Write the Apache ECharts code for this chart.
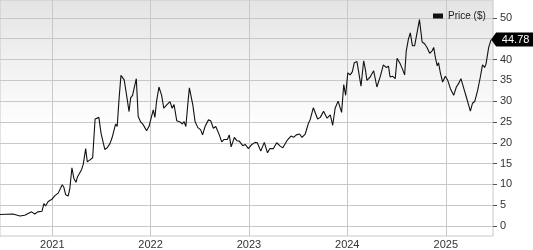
<!DOCTYPE html>
<html>
<head>
<meta charset="utf-8">
<script src="https://cdn.jsdelivr.net/npm/echarts@6/dist/echarts.min.js"></script>
<style>
html,body{margin:0;padding:0;background:#fff;}
#chart{width:533px;height:250px;}
</style>
</head>
<body>
<div id="chart"></div>
<script>
// Weekly-ish closing prices, [date, price]
const prices2020 = [['2020-06-21',2.75],['2020-08-08',2.9],['2020-09-03',2.4],['2020-09-21',2.6],['2020-10-16',3.4],['2020-10-28',2.9],['2020-11-08',3.4],['2020-11-24',3.55],['2020-12-01',5.4],['2020-12-07',4.8],['2020-12-17',5.9],['2020-12-24',5.6]];
const prices2021 = [['2021-01-01',6.5],['2021-01-11',7.3],['2021-01-23',7.9],['2021-01-29',8.1],['2021-02-07',9.9],['2021-02-13',9.3],['2021-02-20',7.5],['2021-03-01',7.2],['2021-03-07',8.9],['2021-03-15',14.0],['2021-03-22',11.5],['2021-03-30',10.5],['2021-04-04',11.7],['2021-04-11',11.9],['2021-04-20',13.6],['2021-04-26',14.8],['2021-05-05',18.6],['2021-05-11',15.4],['2021-05-21',15.9],['2021-05-31',16.4],['2021-06-09',25.7],['2021-06-15',25.3],['2021-06-23',26.1],['2021-07-01',22.3],['2021-07-07',21.9],['2021-07-15',18.4],['2021-07-24',18.8],['2021-08-03',19.8],['2021-08-11',21.2],['2021-08-18',21.6],['2021-08-24',24.5],['2021-08-30',23.9],['2021-09-06',30.6],['2021-09-13',36.2],['2021-09-25',35.1],['2021-10-04',31.4],['2021-10-13',27.5],['2021-10-19',30.8],['2021-10-26',31.4],['2021-11-01',31.6],['2021-11-09',35.4],['2021-11-16',26.3],['2021-11-25',25.0],['2021-12-05',24.3],['2021-12-17',22.9],['2021-12-26',23.9]];
const prices2022 = [['2022-01-02',25.7],['2022-01-11',27.9],['2022-01-17',26.1],['2022-01-23',29.9],['2022-02-01',33.4],['2022-02-11',31.4],['2022-02-19',28.3],['2022-03-02',29.1],['2022-03-14',29.9],['2022-03-22',28.3],['2022-03-29',29.2],['2022-04-08',25.3],['2022-04-20',25.0],['2022-04-29',24.5],['2022-05-05',25.1],['2022-05-12',23.9],['2022-05-21',30.6],['2022-05-25',33.2],['2022-05-31',33.6],['2022-06-07',29.0],['2022-06-15',25.1],['2022-06-25',23.7],['2022-07-06',23.1],['2022-07-13',21.9],['2022-07-22',23.9],['2022-08-04',25.5],['2022-08-12',25.3],['2022-08-22',23.5],['2022-08-31',23.9],['2022-09-06',24.3],['2022-09-13',21.9],['2022-09-22',20.2],['2022-10-01',20.8],['2022-10-08',20.4],['2022-10-13',20.8],['2022-10-20',21.9],['2022-10-27',19.0],['2022-11-08',21.3],['2022-11-17',20.5],['2022-11-26',20.4],['2022-12-03',20.0],['2022-12-09',19.3],['2022-12-18',19.6],['2022-12-30',18.6]];
const prices2023 = [['2023-01-12',19.6],['2023-01-24',20.1],['2023-02-01',20.0],['2023-02-14',18.0],['2023-02-27',20.1],['2023-03-11',17.6],['2023-03-20',18.6],['2023-04-02',18.6],['2023-04-14',20.0],['2023-04-27',19.2],['2023-05-07',18.8],['2023-05-22',20.5],['2023-05-28',20.4],['2023-06-06',21.6],['2023-06-16',21.3],['2023-06-26',21.9],['2023-07-08',22.1],['2023-07-17',21.3],['2023-07-29',22.1],['2023-08-04',21.9],['2023-08-10',24.7],['2023-08-16',25.5],['2023-08-28',28.4],['2023-09-13',25.7],['2023-09-23',26.1],['2023-10-05',27.6],['2023-10-18',25.9],['2023-10-30',26.7],['2023-11-08',24.2],['2023-11-17',28.3],['2023-11-28',30.0],['2023-12-11',27.3],['2023-12-19',34.0],['2023-12-26',31.4]];
const prices2024 = [['2024-01-03',36.8],['2024-01-12',36.3],['2024-01-20',37.1],['2024-01-27',39.2],['2024-02-06',39.5],['2024-02-21',33.6],['2024-03-02',39.7],['2024-03-08',37.7],['2024-03-14',35.0],['2024-03-26',35.8],['2024-04-08',37.3],['2024-04-20',33.4],['2024-05-03',36.0],['2024-05-14',38.7],['2024-05-24',38.1],['2024-06-02',38.4],['2024-06-08',35.8],['2024-06-17',36.0],['2024-06-27',35.4],['2024-07-04',40.3],['2024-07-16',38.9],['2024-07-24',37.7],['2024-08-01',36.3],['2024-08-07',42.1],['2024-08-15',44.9],['2024-08-22',46.4],['2024-08-30',43.3],['2024-09-07',43.3],['2024-09-16',46.4],['2024-09-25',49.6],['2024-10-05',44.2],['2024-10-14',43.8],['2024-10-23',42.9],['2024-11-02',41.5],['2024-11-11',42.1],['2024-11-17',42.9],['2024-11-23',40.5],['2024-11-30',38.5],['2024-12-05',39.2],['2024-12-11',37.0],['2024-12-20',34.6],['2024-12-30',36.0]];
const prices2025 = [['2025-01-08',35.0],['2025-01-18',33.0],['2025-01-30',31.4],['2025-02-09',33.4],['2025-02-17',34.2],['2025-02-26',35.4],['2025-03-08',33.2],['2025-03-18',31.0],['2025-03-24',30.8],['2025-04-02',27.6],['2025-04-10',29.5],['2025-04-18',29.9],['2025-04-29',32.6],['2025-05-09',35.8],['2025-05-17',38.7],['2025-05-25',38.1],['2025-05-30',38.9],['2025-06-09',42.9],['2025-06-18',44.78]];

const yearTicks = ['2021-01-01','2022-01-01','2023-01-01','2024-01-01','2025-01-01'];
const xRange = ['2020-06-21', '2025-06-25'];
const priceTicks = [0,5,10,15,20,25,30,35,40,45,50];
const seriesName = 'Price ($)';
const lastPriceText = '44.78';

const toT = (s) => Date.parse(s + 'T00:00:00Z');
const data = [].concat(prices2020, prices2021, prices2022, prices2023, prices2024, prices2025)
  .map(d => [toT(d[0]), d[1]]);
const last = data[data.length - 1];

const chart = echarts.init(document.getElementById('chart'), null, {renderer: 'canvas'});
const font = 'Arial, "Liberation Sans", sans-serif';
chart.setOption({
  animation: false,
  backgroundColor: '#ffffff',
  grid: {
    left: 0, top: 0, right: 40, bottom: 11,
    show: true,
    borderColor: '#c8c8c8',
    borderWidth: 1,
    backgroundColor: {
      type: 'linear', x: 0, y: 0, x2: 0, y2: 1,
      colorStops: [{offset: 0, color: '#e4e4e4'}, {offset: 0.55, color: '#ffffff'}, {offset: 1, color: '#ffffff'}]
    }
  },
  legend: {
    data: [{name: seriesName, icon: 'rect'}],
    left: 428, top: 6,
    itemWidth: 10, itemHeight: 5, itemGap: 4,
    textStyle: {fontFamily: font, fontSize: 10, color: '#222'}
  },
  xAxis: {
    type: 'value',
    min: toT(xRange[0]), max: toT(xRange[1]),
    axisLine: {show: false},
    axisTick: {show: false, customValues: yearTicks.map(toT)},
    axisLabel: {
      customValues: yearTicks.map(toT),
      formatter: (v) => String(new Date(v).getUTCFullYear()),
      fontFamily: font, fontSize: 11, color: '#333', margin: 3
    },
    splitLine: {show: true, lineStyle: {color: '#c8c8c8', width: 1}}
  },
  yAxis: {
    type: 'value',
    position: 'right',
    min: -2.4, max: 54.3,
    axisLine: {show: false},
    axisTick: {show: true, inside: false, length: 4, customValues: priceTicks, lineStyle: {color: '#555'}},
    axisLabel: {customValues: priceTicks, fontFamily: font, fontSize: 11, color: '#333', margin: 7},
    splitLine: {show: true, lineStyle: {color: '#c8c8c8', width: 1}}
  },
  series: [{
    name: seriesName,
    type: 'line',
    data: data,
    showSymbol: false,
    symbol: 'none',
    color: '#111',
    lineStyle: {color: '#111', width: 1.1},
    markPoint: {
      silent: true,
      symbol: 'path://M0,7 L5,0 L45,0 L45,14 L5,14 Z',
      symbolSize: [45, 14],
      symbolOffset: [22.5, 0],
      itemStyle: {color: '#000'},
      label: {show: true, position: 'inside', offset: [2, 0], color: '#fff', fontFamily: font, fontSize: 11, formatter: lastPriceText},
      data: [{coord: last, value: last[1]}]
    }
  }]
});
</script>
</body>
</html>
